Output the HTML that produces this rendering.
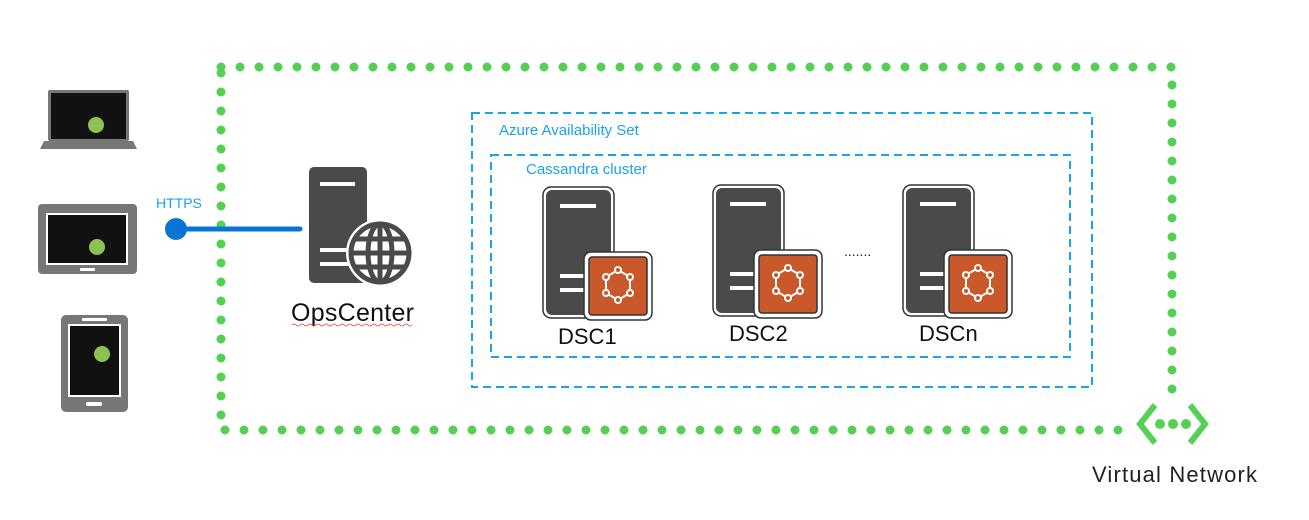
<!DOCTYPE html>
<html><head><meta charset="utf-8"><style>body{margin:0;background:#fff}svg{display:block}text{font-family:"Liberation Sans",sans-serif}</style></head>
<body>
<svg width="1309" height="520" viewBox="0 0 1309 520" xmlns="http://www.w3.org/2000/svg">
<defs>
<g id="srv">
 <rect x="-3" y="-3" width="71" height="131" rx="8" fill="#fff" stroke="#333" stroke-width="1.5"/>
 <rect x="0" y="0" width="65" height="125" rx="6" fill="#4a4a4a"/>
 <rect x="14" y="14" width="36" height="4" fill="#fff"/>
 <rect x="14" y="84" width="28" height="4" fill="#fff"/>
 <rect x="14" y="98" width="28" height="4" fill="#fff"/>
 <rect x="38" y="62" width="68" height="68" rx="7" fill="#fff" stroke="#333" stroke-width="1.5"/>
 <rect x="43" y="67" width="58" height="58" rx="3" fill="#c9582a" stroke="#333" stroke-width="1.5"/>
 <g stroke="#fff" stroke-width="2" fill="#c9582a">
  <polygon points="72,80 84,87 84,103 72,110 60,103 60,87"/>
  <circle cx="72" cy="80" r="3"/><circle cx="84" cy="87" r="3"/><circle cx="84" cy="103" r="3"/>
  <circle cx="72" cy="110" r="3"/><circle cx="60" cy="103" r="3"/><circle cx="60" cy="87" r="3"/>
 </g>
</g>
</defs>
<rect x="221" y="67" width="951" height="363" fill="none" stroke="#55d055" stroke-width="9" stroke-linecap="round" stroke-dasharray="0 19"/>
<rect x="1132" y="400" width="82" height="50" fill="#fff"/>
<g stroke="#55d055" stroke-width="6" fill="none"><polyline points="1155,405 1140,424 1155,443"/><polyline points="1190,405 1205,424 1190,443"/></g>
<g fill="#55d055"><circle cx="1160" cy="424" r="5"/><circle cx="1173" cy="424" r="5"/><circle cx="1186" cy="424" r="5"/></g>
<text x="1092" y="482" font-size="22" fill="#222" textLength="165">Virtual Network</text>
<rect x="472" y="113" width="620" height="274" fill="none" stroke="#1aa3e8" stroke-width="2" stroke-dasharray="8 5"/>
<text x="499" y="135" font-size="15" fill="#1aa3e8">Azure Availability Set</text>
<rect x="491" y="155" width="579" height="202" fill="none" stroke="#1aa3e8" stroke-width="2" stroke-dasharray="8 5"/>
<text x="526" y="174" font-size="15" fill="#1aa3e8">Cassandra cluster</text>
<use href="#srv" x="546" y="190"/>
<use href="#srv" x="716" y="188"/>
<use href="#srv" x="906" y="188"/>
<text x="844" y="256" font-size="14" fill="#222">.......</text>
<text x="558" y="344" font-size="22" fill="#111">DSC1</text>
<text x="729" y="341" font-size="22" fill="#111">DSC2</text>
<text x="919" y="341" font-size="22" fill="#111">DSCn</text>
<rect x="309" y="167" width="58" height="116" rx="5" fill="#4a4a4a"/>
<rect x="320" y="182" width="35" height="4" fill="#fff"/>
<rect x="320" y="248" width="30" height="4" fill="#fff"/>
<rect x="320" y="262" width="30" height="4" fill="#fff"/>
<circle cx="380" cy="253" r="34" fill="#fff"/>
<g stroke="#4a4a4a" stroke-width="5" fill="none"><circle cx="380" cy="253" r="29"/><ellipse cx="380" cy="253" rx="12" ry="29"/><line x1="380" y1="224" x2="380" y2="282"/><line x1="351" y1="253" x2="409" y2="253"/><line x1="355" y1="239" x2="405" y2="239"/><line x1="355" y1="267" x2="405" y2="267"/></g>
<text x="291" y="321" font-size="25" fill="#111" textLength="123">OpsCenter</text>
<path d="M292 325 q2 -2 4 0 t4 0 t4 0 t4 0 t4 0 t4 0 t4 0 t4 0 t4 0 t4 0 t4 0 t4 0 t4 0 t4 0 t4 0 t4 0 t4 0 t4 0 t4 0 t4 0 t4 0 t4 0 t4 0 t4 0 t4 0 t4 0 t4 0 t4 0 t4 0 t4 0" stroke="#e04040" stroke-width="0.8" fill="none"/>
<line x1="176" y1="229" x2="300" y2="229" stroke="#0a74d4" stroke-width="5" stroke-linecap="round"/>
<circle cx="176" cy="229" r="11" fill="#0a74d4"/>
<text x="156" y="208" font-size="14" fill="#1aa3e8">HTTPS</text>
<rect x="48" y="90" width="81" height="51" rx="2" fill="#777"/>
<rect x="51" y="93" width="75" height="46" fill="#111"/>
<circle cx="96" cy="125" r="8" fill="#8dc152"/>
<path d="M44 141 H133 L137 149 H40 Z" fill="#777"/>
<rect x="38" y="204" width="99" height="70" rx="4" fill="#777"/>
<rect x="46" y="213" width="82" height="52" fill="#fff"/>
<rect x="48" y="215" width="78" height="48" fill="#111"/>
<circle cx="97" cy="247" r="8" fill="#8dc152"/>
<rect x="80" y="268" width="15" height="3" rx="1" fill="#fff"/>
<rect x="61" y="315" width="67" height="97" rx="5" fill="#777"/>
<rect x="68" y="324" width="53" height="73" fill="#fff"/>
<rect x="70" y="326" width="49" height="69" fill="#111"/>
<circle cx="102" cy="354" r="8" fill="#8dc152"/>
<rect x="82" y="318" width="25" height="3" rx="1" fill="#fff"/>
<rect x="86" y="402" width="16" height="4" rx="2" fill="#fff"/>
</svg>
</body></html>
